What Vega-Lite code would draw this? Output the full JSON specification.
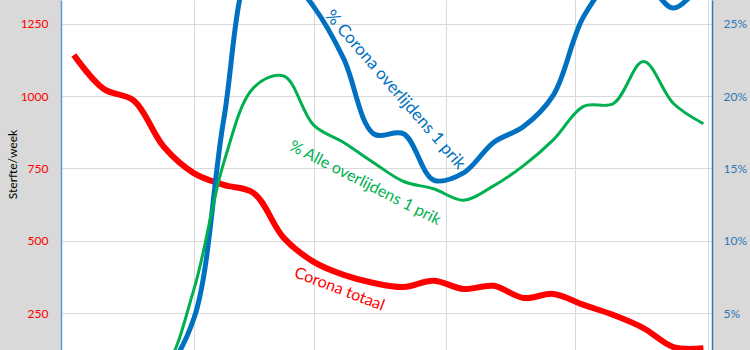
{
  "$schema": "https://vega.github.io/schema/vega-lite/v6.json",
  "width": 651,
  "height": 350,
  "autosize": {"type": "none"},
  "padding": {"left": 61, "right": 38, "top": 0, "bottom": 0},
  "background": "#d9d9d9",
  "config": {"view": {"fill": "white", "stroke": null}, "font": "Lato"},
  "data": {"values": [
    {"date": "2021-01-04", "totaal": 1143, "corona": 0.002, "alle": 0.002},
    {"date": "2021-01-11", "totaal": 1025, "corona": 0.003, "alle": 0.003},
    {"date": "2021-01-18", "totaal": 985, "corona": 0.005, "alle": 0.005},
    {"date": "2021-01-25", "totaal": 825, "corona": 0.010, "alle": 0.012},
    {"date": "2021-02-01", "totaal": 734, "corona": 0.046, "alle": 0.066},
    {"date": "2021-02-08", "totaal": 693, "corona": 0.184, "alle": 0.154},
    {"date": "2021-02-15", "totaal": 665, "corona": 0.290, "alle": 0.206},
    {"date": "2021-02-22", "totaal": 510, "corona": 0.285, "alle": 0.214},
    {"date": "2021-03-01", "totaal": 427, "corona": 0.262, "alle": 0.180},
    {"date": "2021-03-08", "totaal": 382, "corona": 0.226, "alle": 0.168},
    {"date": "2021-03-15", "totaal": 354, "corona": 0.174, "alle": 0.154},
    {"date": "2021-03-22", "totaal": 340, "corona": 0.174, "alle": 0.141},
    {"date": "2021-03-29", "totaal": 362, "corona": 0.142, "alle": 0.136},
    {"date": "2021-04-05", "totaal": 333, "corona": 0.147, "alle": 0.128},
    {"date": "2021-04-12", "totaal": 344, "corona": 0.168, "alle": 0.138},
    {"date": "2021-04-19", "totaal": 302, "corona": 0.179, "alle": 0.152},
    {"date": "2021-04-26", "totaal": 316, "corona": 0.201, "alle": 0.170},
    {"date": "2021-05-03", "totaal": 278, "corona": 0.255, "alle": 0.193},
    {"date": "2021-05-10", "totaal": 243, "corona": 0.280, "alle": 0.195},
    {"date": "2021-05-17", "totaal": 198, "corona": 0.280, "alle": 0.224},
    {"date": "2021-05-24", "totaal": 132, "corona": 0.261, "alle": 0.195},
    {"date": "2021-05-31", "totaal": 128, "corona": 0.280, "alle": 0.181}
  ]},
  "layer": [
    {
      "mark": {"type": "line", "color": "#ff0000", "strokeWidth": 6, "interpolate": "catmull-rom", "clip": true},
      "encoding": {
        "x": {"field": "date", "type": "temporal",
          "scale": {"type": "utc", "domain": [{"year": 2021, "month": 1, "date": 1, "utc": true}, {"year": 2021, "month": 6, "date": 2, "utc": true}]},
          "axis": {"values": [
            {"year": 2021, "month": 2, "date": 1, "utc": true},
            {"year": 2021, "month": 3, "date": 1, "utc": true},
            {"year": 2021, "month": 4, "date": 1, "utc": true},
            {"year": 2021, "month": 5, "date": 1, "utc": true},
            {"year": 2021, "month": 6, "date": 1, "utc": true}],
            "labels": false, "ticks": false, "domain": false, "title": null, "grid": true, "gridColor": "#d9d9d9", "gridWidth": 1}},
        "y": {"field": "totaal", "type": "quantitative",
          "scale": {"domain": [122, 1333], "nice": false, "zero": false},
          "axis": {"orient": "left", "values": [250, 500, 750, 1000, 1250], "format": "d", "ticks": false,
            "labelColor": "#ff0000", "labelFontSize": 12, "labelPadding": 13,
            "domainColor": "#5b9bd5", "domainWidth": 1.5,
            "grid": true, "gridColor": "#d9d9d9", "gridWidth": 1,
            "title": "Sterfte/week", "titleColor": "#000000", "titleFontSize": 12, "titleFontWeight": "normal",
            "titleAngle": -90, "titleX": -49, "titleY": 164, "titleAlign": "center", "titleBaseline": "middle"}}
      }
    },
    {
      "mark": {"type": "line", "color": "#0070c0", "strokeWidth": 5, "interpolate": "catmull-rom", "clip": true},
      "encoding": {
        "x": {"field": "date", "type": "temporal"},
        "y": {"field": "corona", "type": "quantitative",
          "scale": {"domain": [0.0244, 0.2666], "nice": false, "zero": false},
          "axis": {"orient": "right", "values": [0.05, 0.10, 0.15, 0.20, 0.25], "format": ".0%", "ticks": false,
            "labelColor": "#2e75b6", "labelFontSize": 12, "labelPadding": 11,
            "domainColor": "#2e75b6", "domainWidth": 1.5, "grid": false, "title": null}}
      }
    },
    {
      "mark": {"type": "line", "color": "#00b050", "strokeWidth": 3, "interpolate": "catmull-rom", "clip": true},
      "encoding": {
        "x": {"field": "date", "type": "temporal"},
        "y": {"field": "alle", "type": "quantitative",
          "scale": {"domain": [0.0244, 0.2666], "nice": false, "zero": false}, "axis": null}
      }
    },
    {
      "data": {"values": [
        {"date": "2021-03-20", "value": 1022, "label": "% Corona overlijdens 1 prik"}
      ]},
      "mark": {"type": "text", "color": "#0070c0", "fontSize": 17, "angle": 49, "align": "center", "baseline": "middle"},
      "encoding": {
        "x": {"field": "date", "type": "temporal"},
        "y": {"field": "value", "type": "quantitative", "scale": {"domain": [122, 1333], "nice": false, "zero": false}, "axis": null},
        "text": {"field": "label"}
      }
    },
    {
      "data": {"values": [
        {"date": "2021-03-13", "value": 700, "label": "% Alle overlijdens 1 prik"}
      ]},
      "mark": {"type": "text", "color": "#00b050", "fontSize": 16, "angle": 27, "align": "center", "baseline": "middle"},
      "encoding": {
        "x": {"field": "date", "type": "temporal"},
        "y": {"field": "value", "type": "quantitative", "scale": {"domain": [122, 1333], "nice": false, "zero": false}, "axis": null},
        "text": {"field": "label"}
      }
    },
    {
      "data": {"values": [
        {"date": "2021-03-07", "value": 333, "label": "Corona totaal"}
      ]},
      "mark": {"type": "text", "color": "#ff0000", "fontSize": 16, "angle": 21, "align": "center", "baseline": "middle"},
      "encoding": {
        "x": {"field": "date", "type": "temporal"},
        "y": {"field": "value", "type": "quantitative", "scale": {"domain": [122, 1333], "nice": false, "zero": false}, "axis": null},
        "text": {"field": "label"}
      }
    }
  ],
  "resolve": {"scale": {"y": "independent"}}
}
